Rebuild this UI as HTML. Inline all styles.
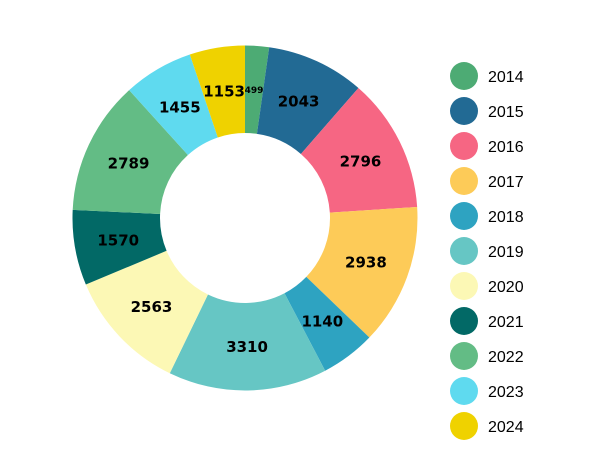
<!DOCTYPE html>
<html><head><meta charset="utf-8"><style>
html,body{margin:0;padding:0;background:#fff;width:605px;height:465px;overflow:hidden}
</style></head><body>
<svg id="s" width="605" height="465" xmlns="http://www.w3.org/2000/svg"></svg>
<script>
var vals=[499,2043,2796,2938,1140,3310,2563,1570,2789,1455,1153];
var yrs=[2014,2015,2016,2017,2018,2019,2020,2021,2022,2023,2024];
var cols=["#4dab74","#226a94","#f66683","#fdcb58","#2ea3c1","#66c6c4","#fcf8b5","#026966","#63bc85","#5fdaef","#efd200"];
var cx=245,cy=218,R=172.5,r=85;
var tot=vals.reduce(function(a,b){return a+b},0);
var h="",a0=0;
function p(rad,a){return [cx+rad*Math.sin(a),cy-rad*Math.cos(a)];}
var labels="";
for(var i=0;i<vals.length;i++){
 var a1=a0+vals[i]/tot*2*Math.PI;
 var A=p(R,a0),B=p(R,a1),C=p(r,a1),D=p(r,a0);
 var lg=(a1-a0)>Math.PI?1:0;
 h+='<path fill="'+cols[i]+'" d="M'+A[0]+' '+A[1]+' A'+R+' '+R+' 0 '+lg+' 1 '+B[0]+' '+B[1]+' L'+C[0]+' '+C[1]+' A'+r+' '+r+' 0 '+lg+' 0 '+D[0]+' '+D[1]+'Z"/>';
 var m=p((R+r)/2,(a0+a1)/2);
 var fs=vals[i]<600?9:15;
 labels+='<text x="'+m[0]+'" y="'+(m[1]+fs*0.36)+'" text-anchor="middle" font-family="DejaVu Sans, sans-serif" font-weight="bold" font-size="'+fs+'" fill="#000">'+vals[i]+'</text>';
 h+='<circle cx="464" cy="'+(76+35*i)+'" r="14" fill="'+cols[i]+'"/>';
 h+='<text x="488" y="'+(82+35*i)+'" font-family="Liberation Sans, Arial, sans-serif" font-size="16" fill="#000">'+yrs[i]+'</text>';
 a0=a1;
}
document.getElementById("s").innerHTML=h+labels;
</script>
</body></html>
